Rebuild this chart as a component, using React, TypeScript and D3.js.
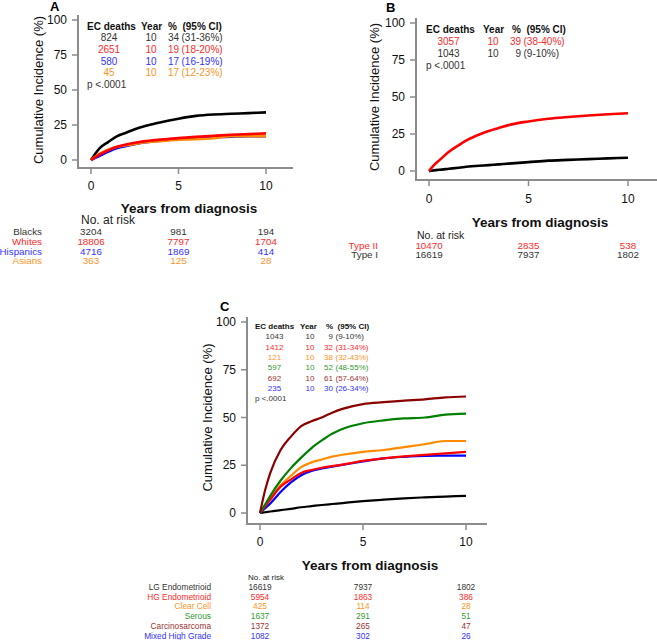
import React from 'react';
import * as d3 from 'd3';

const FONT = '"Liberation Sans", Arial, sans-serif';

const X_TICKS = [0, 5, 10];
const Y_TICKS = [0, 25, 50, 75, 100];
const RISK_YEARS = [0, 5, 10];

// ---------- Panel A ----------
const A_TIMES = [0, 0.5, 1, 1.5, 2, 2.5, 3, 3.5, 4, 5, 6, 7, 8, 9, 10];
const A_BLACKS = [0, 8.5, 13, 17, 19.5, 22, 24, 25.5, 27, 29.5, 31.5, 32.5, 33, 33.5, 34];
const A_WHITES = [0, 4, 7, 9.5, 11, 12.3, 13.3, 14, 14.6, 15.6, 16.5, 17.3, 18, 18.5, 19];
const A_HISPANICS = [0, 3, 6, 8.5, 10, 11.3, 12.5, 13.3, 14, 15, 15.8, 16.3, 16.7, 17, 17];
const A_ASIANS = [0, 4.5, 7.5, 9.5, 10.5, 11.5, 12.5, 13, 13.5, 14.5, 14.8, 15.5, 17, 17, 17];
const A_GROUPS = ['Blacks', 'Whites', 'Hispanics', 'Asians'];
const A_DEATHS = ['824', '2651', '580', '45'];
const A_PCT = ['34', '19', '17', '17'];
const A_CI = ['(31-36%)', '(18-20%)', '(16-19%)', '(12-23%)'];
const A_RISK = [[3204, 981, 194], [18806, 7797, 1704], [4716, 1869, 414], [363, 125, 28]];
const A_COLORS = ['#000000', '#ff0000', '#0000ff', '#ff8c00'];
const A_TEXT = ['#333333', '#ff2a2a', '#3333ff', '#ff9326'];
const A_DRAW_ORDER = [0, 2, 3, 1];

// ---------- Panel B ----------
const B_TIMES = [0, 0.25, 0.5, 1, 1.5, 2, 2.5, 3, 3.5, 4, 5, 6, 7, 8, 9, 10];
const B_TYPE2 = [0, 4, 7, 13, 17.5, 21.5, 24.5, 27, 29, 31, 33.5, 35.3, 36.5, 37.5, 38.3, 39];
const B_TYPE1 = [0, 0.4, 0.8, 1.5, 2.2, 3, 3.5, 4, 4.5, 5, 6, 7, 7.5, 8, 8.5, 9];
const B_GROUPS = ['Type II', 'Type I'];
const B_DEATHS = ['3057', '1043'];
const B_PCT = ['39', '9'];
const B_CI = ['(38-40%)', '(9-10%)'];
const B_RISK = [[10470, 2835, 538], [16619, 7937, 1802]];
const B_COLORS = ['#ff0000', '#000000'];
const B_TEXT = ['#ff2a2a', '#333333'];
const B_DRAW_ORDER = [1, 0];

// ---------- Panel C ----------
const C_TIMES = [0, 0.25, 0.5, 1, 1.5, 2, 2.5, 3, 3.5, 4, 5, 6, 7, 8, 9, 10];
const C_LG_ENDO = [0, 0.4, 0.8, 1.5, 2.2, 3, 3.6, 4.2, 4.7, 5.2, 6.2, 7, 7.7, 8.2, 8.6, 9];
const C_HG_ENDO = [0, 3.5, 7, 13.8, 17.5, 21, 22.5, 23.7, 24.5, 25.3, 27.3, 28.6, 29.6, 30.4, 31.2, 32];
const C_CLEAR = [0, 4, 7.5, 14.5, 19.5, 24, 26.5, 28, 29.5, 30.5, 32, 33, 34.5, 36, 37.7, 37.7];
const C_SEROUS = [0, 4.5, 9, 17, 23.5, 29, 34, 38, 41.5, 44, 47, 48.5, 49.5, 50, 51.5, 52];
const C_CARCINO = [0, 12, 21, 33, 40, 45.5, 48, 50, 52.5, 54.5, 57, 58, 58.8, 59.5, 60.5, 61];
const C_MIXED = [0, 2.5, 5, 11, 16, 19.8, 22, 23.3, 24.3, 25.2, 27, 28.6, 29.4, 29.9, 30, 30];
const C_GROUPS = ['LG Endometrioid', 'HG Endometrioid', 'Clear Cell', 'Serous', 'Carcinosarcoma', 'Mixed High Grade'];
const C_DEATHS = ['1043', '1412', '121', '597', '692', '235'];
const C_PCT = ['9', '32', '38', '52', '61', '30'];
const C_CI = ['(9-10%)', '(31-34%)', '(32-43%)', '(48-55%)', '(57-64%)', '(26-34%)'];
const C_RISK = [[16619, 7937, 1802], [5954, 1863, 386], [425, 114, 28], [1637, 291, 51], [1372, 265, 47], [1082, 302, 26]];
const C_COLORS = ['#000000', '#ff0000', '#ff8c00', '#008000', '#8b0000', '#0000ff'];
const C_TEXT = ['#333333', '#ff2a2a', '#ff9326', '#339933', '#993333', '#3333ff'];
const C_DRAW_ORDER = [0, 2, 5, 1, 3, 4];

type PanelCfg = {
  label: string;
  labelX: number; labelY: number;
  xRange: [number, number];
  yRange: [number, number];
  axisX: number; axisBottom: number; axisRight: number; axisTop: number;
  yTitleX: number; xTitleX: number; xTitleY: number; xTickY: number;
  times: number[];
  series: number[][];
  colors: string[];
  textColors: string[];
  drawOrder: number[];
  strokeW: number;
  legend: { x: number; nameCx: number; yearCx: number; pctEnd: number; ciX: number; pctHeadX: number; yearHeadX: number; headY: number; rowYs: number[]; pY: number; size: number };
  deaths: string[]; pct: string[]; ci: string[];
  groups: string[];
  risk: number[][];
  riskTbl: { headX: number; headY: number; headSize: number; labelRight: number; rowYs: number[]; size: number };
};

function Panel({ c }: { c: PanelCfg }) {
  const x = d3.scaleLinear().domain([0, 10]).range(c.xRange);
  const y = d3.scaleLinear().domain([0, 100]).range(c.yRange);
  const line = d3.line<[number, number]>()
    .x(d => x(d[0]))
    .y(d => y(d[1]))
    .curve(d3.curveMonotoneX);
  const axisCol = '#8c8c8c';
  const yMid = (c.yRange[0] + c.yRange[1]) / 2;
  const L = c.legend;
  const R = c.riskTbl;
  return (
    <g fontFamily={FONT}>
      <text x={c.labelX} y={c.labelY} fontSize={13} fontWeight="bold" dominantBaseline="central">{c.label}</text>
      {/* axes */}
      <path d={`M${c.axisX},${c.axisTop}V${c.axisBottom}H${c.axisRight}`} fill="none" stroke={axisCol} strokeWidth={2} />
      {Y_TICKS.map(t => (
        <g key={'y' + t}>
          <line x1={c.axisX - 6} x2={c.axisX} y1={y(t)} y2={y(t)} stroke={axisCol} strokeWidth={1.5} />
          <text x={c.axisX - 11} y={y(t)} fontSize={12} textAnchor="end" dominantBaseline="central" fill="#111">{t}</text>
        </g>
      ))}
      {X_TICKS.map(t => (
        <g key={'x' + t}>
          <line x1={x(t)} x2={x(t)} y1={c.axisBottom} y2={c.axisBottom + 6} stroke={axisCol} strokeWidth={1.5} />
          <text x={x(t)} y={c.xTickY} fontSize={12} textAnchor="middle" dominantBaseline="central" fill="#111">{t}</text>
        </g>
      ))}
      <text transform={`translate(${c.yTitleX},${yMid}) rotate(-90)`} fontSize={13} textAnchor="middle" dominantBaseline="central" fill="#111">Cumulative Incidence (%)</text>
      <text x={c.xTitleX} y={c.xTitleY} fontSize={13.5} fontWeight="bold" textAnchor="middle" dominantBaseline="central" fill="#111">Years from diagnosis</text>
      {/* curves */}
      {c.drawOrder.map(i => (
        <path key={'s' + i} d={line(c.times.map((t, k) => [t, c.series[i][k]]) as [number, number][]) || ''} fill="none" stroke={c.colors[i]} strokeWidth={c.strokeW} strokeLinejoin="round" />
      ))}
      {/* legend */}
      <g fontSize={L.size}>
        <text x={L.x} y={L.headY} fontWeight="bold" dominantBaseline="central" fill="#111">EC deaths</text>
        <text x={L.yearHeadX} y={L.headY} fontWeight="bold" dominantBaseline="central" fill="#111">Year</text>
        <text x={L.pctHeadX} y={L.headY} fontWeight="bold" dominantBaseline="central" fill="#111" style={{ whiteSpace: 'pre' }}>{'%  (95% CI)'}</text>
        {c.deaths.map((d, i) => (
          <g key={'l' + i} fill={c.textColors[i]}>
            <text x={L.nameCx} y={L.rowYs[i]} textAnchor="middle" dominantBaseline="central">{d}</text>
            <text x={L.yearCx} y={L.rowYs[i]} textAnchor="middle" dominantBaseline="central">10</text>
            <text x={L.pctEnd} y={L.rowYs[i]} textAnchor="end" dominantBaseline="central">{c.pct[i]}</text>
            <text x={L.ciX} y={L.rowYs[i]} dominantBaseline="central">{c.ci[i]}</text>
          </g>
        ))}
        <text x={L.x} y={L.pY} dominantBaseline="central" fill="#333">p &lt;.0001</text>
      </g>
      {/* risk table */}
      <text x={R.headX} y={R.headY} fontSize={R.headSize} dominantBaseline="central" fill="#222">No. at risk</text>
      <g fontSize={R.size}>
        {c.groups.map((g, i) => (
          <g key={'r' + i} fill={c.textColors[i]}>
            <text x={R.labelRight} y={R.rowYs[i]} textAnchor="end" dominantBaseline="central">{g}</text>
            {RISK_YEARS.map((yr, k) => (
              <text key={k} x={x(yr)} y={R.rowYs[i]} textAnchor="middle" dominantBaseline="central">{c.risk[i][k]}</text>
            ))}
          </g>
        ))}
      </g>
    </g>
  );
}

const panelA: PanelCfg = {
  label: 'A', labelX: 50, labelY: 6,
  xRange: [91, 266], yRange: [160, 20],
  axisX: 78, axisBottom: 168, axisRight: 293, axisTop: 15,
  yTitleX: 38, xTitleX: 189, xTitleY: 208, xTickY: 186,
  times: A_TIMES, series: [A_BLACKS, A_WHITES, A_HISPANICS, A_ASIANS],
  colors: A_COLORS, textColors: A_TEXT, drawOrder: A_DRAW_ORDER, strokeW: 2.6,
  legend: { x: 87, nameCx: 109, yearCx: 151, pctEnd: 179, ciX: 181.5, pctHeadX: 168, yearHeadX: 141, headY: 26, rowYs: [37.5, 49, 61, 72.5], pY: 84, size: 10 },
  deaths: A_DEATHS, pct: A_PCT, ci: A_CI, groups: A_GROUPS, risk: A_RISK,
  riskTbl: { headX: 81, headY: 220, headSize: 12, labelRight: 42, rowYs: [231, 241, 251, 260.5], size: 9.8 },
};

const panelB: PanelCfg = {
  label: 'B', labelX: 386, labelY: 7,
  xRange: [429, 628], yRange: [171, 23],
  axisX: 416, axisBottom: 180, axisRight: 657, axisTop: 18,
  yTitleX: 374, xTitleX: 540, xTitleY: 222, xTickY: 199,
  times: B_TIMES, series: [B_TYPE2, B_TYPE1],
  colors: B_COLORS, textColors: B_TEXT, drawOrder: B_DRAW_ORDER, strokeW: 2.6,
  legend: { x: 426, nameCx: 448.5, yearCx: 493, pctEnd: 521, ciX: 523.5, pctHeadX: 512, yearHeadX: 483, headY: 29, rowYs: [41, 53], pY: 65, size: 10 },
  deaths: B_DEATHS, pct: B_PCT, ci: B_CI, groups: B_GROUPS, risk: B_RISK,
  riskTbl: { headX: 417, headY: 235, headSize: 10.5, labelRight: 378, rowYs: [245, 254.5], size: 9.8 },
};

const panelC: PanelCfg = {
  label: 'C', labelX: 220, labelY: 306,
  xRange: [260, 466], yRange: [513, 322],
  axisX: 247, axisBottom: 524, axisRight: 487, axisTop: 317,
  yTitleX: 207, xTitleX: 370, xTitleY: 565, xTickY: 542,
  times: C_TIMES, series: [C_LG_ENDO, C_HG_ENDO, C_CLEAR, C_SEROUS, C_CARCINO, C_MIXED],
  colors: C_COLORS, textColors: C_TEXT, drawOrder: C_DRAW_ORDER, strokeW: 2.2,
  legend: { x: 255, nameCx: 274.5, yearCx: 310, pctEnd: 333, ciX: 335.5, pctHeadX: 326, yearHeadX: 300, headY: 326, rowYs: [336.7, 347, 357.3, 367.7, 378.2, 388.6], pY: 398.5, size: 8 },
  deaths: C_DEATHS, pct: C_PCT, ci: C_CI, groups: C_GROUPS, risk: C_RISK,
  riskTbl: { headX: 248, headY: 577.5, headSize: 8, labelRight: 211, rowYs: [586.7, 596.7, 606.3, 616, 626, 635.7], size: 8.3 },
};

export default function App() {
  return (
    <div style={{ position: 'absolute', left: 0, top: 0, width: 657, height: 640, background: '#fff' }}>
      <svg width={657} height={640} viewBox="0 0 657 640" style={{ display: 'block' }}>
        <rect width={657} height={640} fill="#fff" />
        <Panel c={panelA} />
        <Panel c={panelB} />
        <Panel c={panelC} />
      </svg>
    </div>
  );
}
